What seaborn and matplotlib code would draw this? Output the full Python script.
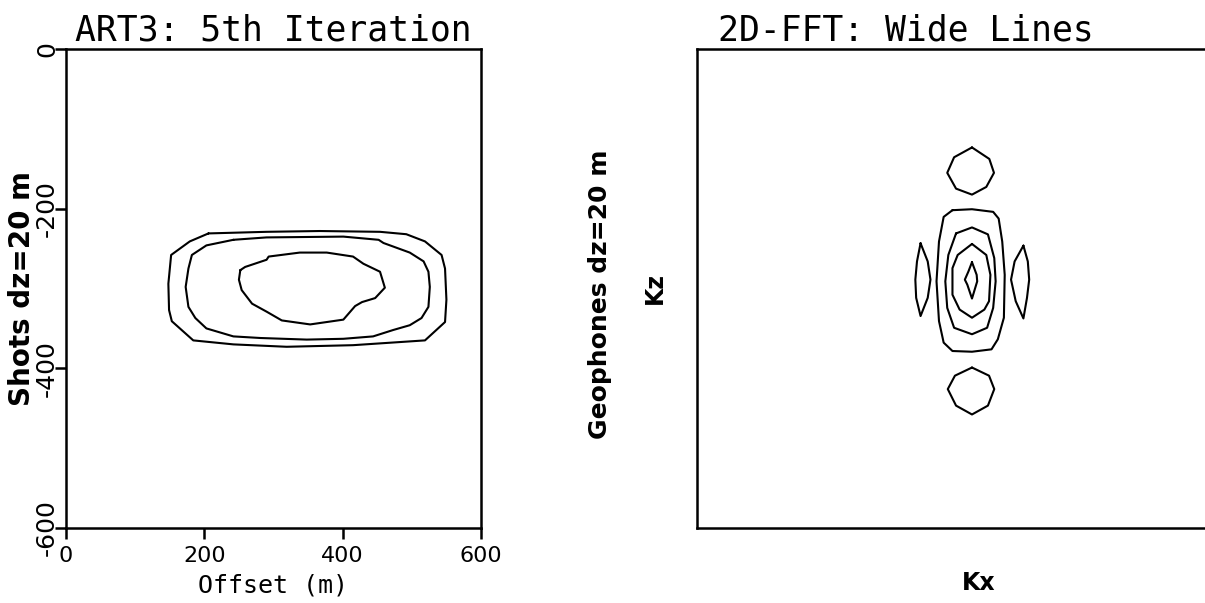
import matplotlib
matplotlib.use("Agg")
import matplotlib.pyplot as plt
import seaborn as sns
import pandas as pd

# ---- left panel: ART3 reconstruction contours (offset in m, depth in m) ----
art3_outer_x = [206, 290, 367, 454, 492, 519, 543, 548, 550, 548, 519, 415, 319, 242, 184, 153, 149, 148, 152, 179]
art3_outer_z = [-231, -229, -228, -229, -232, -241, -258, -275, -314, -342, -365, -371, -373, -370, -365, -341, -327, -294, -258, -241]

art3_mid_x = [242, 290, 401, 452, 459, 497, 517, 524, 526, 524, 514, 497, 473, 444, 401, 348, 281, 242, 203, 187, 177, 173, 177, 182, 203]
art3_mid_z = [-239, -236, -235, -239, -243, -255, -266, -279, -298, -323, -337, -346, -352, -360, -363, -364, -362, -360, -350, -337, -323, -298, -275, -258, -246]

art3_inner_x = [252, 259, 290, 293, 338, 377, 415, 430, 454, 461, 447, 428, 418, 401, 353, 312, 290, 269, 254, 250]
art3_inner_z = [-277, -273, -264, -260, -255, -255, -260, -269, -279, -299, -312, -317, -322, -339, -345, -340, -329, -319, -302, -289]

offset_ticks = [0, 200, 400, 600]
depth_ticks = [0, -200, -400, -600]

# ---- right panel: 2D-FFT amplitude contours (normalised wavenumbers) ----
fft_top_kx = [0.000, 0.063, 0.080, 0.052, 0.000, -0.058, -0.090, -0.065]
fft_top_kz = [0.589, 0.541, 0.483, 0.424, 0.392, 0.417, 0.483, 0.548]

fft_bot_kx = [0.000, 0.062, 0.081, 0.058, 0.000, -0.058, -0.088, -0.062]
fft_bot_kz = [-0.330, -0.364, -0.420, -0.489, -0.526, -0.489, -0.420, -0.364]

fft_c1_kx = [-0.071, 0.000, 0.077, 0.097, 0.110, 0.119, 0.116, 0.094, 0.071, 0.000, -0.071, -0.103, -0.120, -0.129, -0.120, -0.103]
fft_c1_kz = [0.327, 0.331, 0.320, 0.292, 0.196, 0.057, -0.122, -0.212, -0.254, -0.264, -0.261, -0.226, -0.136, 0.030, 0.196, 0.299]

fft_c2_kx = [-0.058, 0.000, 0.058, 0.081, 0.086, 0.077, 0.055, 0.000, -0.065, -0.090, -0.097, -0.086]
fft_c2_kz = [0.230, 0.255, 0.226, 0.127, 0.030, -0.081, -0.164, -0.191, -0.164, -0.081, 0.030, 0.140]

fft_c3_kx = [0.000, 0.052, 0.067, 0.062, 0.045, 0.000, -0.045, -0.071, -0.071, -0.052]
fft_c3_kz = [0.186, 0.140, 0.057, -0.053, -0.088, -0.122, -0.088, -0.026, 0.085, 0.140]

fft_c4_kx = [0.000, 0.017, 0.019, 0.000, -0.017, -0.026, -0.013]
fft_c4_kz = [0.110, 0.057, 0.030, -0.042, 0.016, 0.037, 0.071]

fft_left_kx = [-0.187, -0.161, -0.151, -0.161, -0.187, -0.203, -0.206, -0.200]
fft_left_kz = [0.189, 0.113, 0.037, -0.039, -0.115, -0.039, 0.037, 0.113]

fft_right_kx = [0.187, 0.203, 0.208, 0.200, 0.187, 0.159, 0.142, 0.155]
fft_right_kz = [0.179, 0.113, 0.037, -0.039, -0.125, -0.053, 0.037, 0.113]

sns.set_theme(style="white")
plt.rcParams["font.family"] = ["DejaVu Sans"]
plt.rcParams["axes.unicode_minus"] = False
plt.rcParams["text.color"] = "black"
plt.rcParams["axes.labelcolor"] = "black"
plt.rcParams["xtick.color"] = "black"
plt.rcParams["ytick.color"] = "black"

W, H = 1205, 603
fig = plt.figure(figsize=(W / 100, H / 100), dpi=100)
fig.patch.set_facecolor("white")

ax1 = fig.add_axes([66 / W, 75 / H, 415 / W, 479 / H])
ax2 = fig.add_axes([697 / W, 75 / H, 553 / W, 479 / H])

LW = 1.5


def draw_closed(ax, xs, ys):
    df = pd.DataFrame({"x": list(xs) + [xs[0]], "y": list(ys) + [ys[0]]})
    sns.lineplot(data=df, x="x", y="y", sort=False, estimator=None,
                 color="black", linewidth=LW, ax=ax)


# left panel
for xs, zs in [(art3_outer_x, art3_outer_z), (art3_mid_x, art3_mid_z),
               (art3_inner_x, art3_inner_z)]:
    draw_closed(ax1, xs, zs)

ax1.set_xlim(0, 600)
ax1.set_ylim(-600, 0)
ax1.set_xticks(offset_ticks)
ax1.set_xticklabels([str(v) for v in offset_ticks], fontsize=16)
ax1.set_yticks(depth_ticks)
ax1.set_yticklabels([str(v) for v in depth_ticks], fontsize=18,
                    rotation=90, va="center")
ax1.tick_params(axis="both", direction="out", length=8, width=1.8,
                color="black", bottom=True, left=True)
ax1.tick_params(axis="y", pad=-3)
ax1.tick_params(axis="x", pad=5)
ax1.set_xlabel("Offset (m)", family="DejaVu Sans Mono", fontsize=18, labelpad=5)
ax1.set_ylabel("Shots dz=20 m", fontsize=20, fontweight="bold")
ax1.yaxis.set_label_coords(-0.072, 0.5)
ax1.set_title("ART3: 5th Iteration", family="DejaVu Sans Mono", fontsize=25, pad=6)

# right panel
for xs, zs in [(fft_top_kx, fft_top_kz), (fft_bot_kx, fft_bot_kz),
               (fft_c1_kx, fft_c1_kz), (fft_c2_kx, fft_c2_kz),
               (fft_c3_kx, fft_c3_kz), (fft_c4_kx, fft_c4_kz),
               (fft_left_kx, fft_left_kz), (fft_right_kx, fft_right_kz)]:
    draw_closed(ax2, xs, zs)

ax2.set_xlim(-1, 1.011)
ax2.set_ylim(-1, 1)
ax2.set_xticks([])
ax2.set_yticks([])
ax2.set_xlabel("Kx", fontsize=17, fontweight="bold")
ax2.xaxis.set_label_coords(0.51, -0.09)
ax2.set_ylabel("Kz", fontsize=17, fontweight="bold", labelpad=22)
ax2.set_title("2D-FFT: Wide Lines", family="DejaVu Sans Mono", fontsize=25,
              pad=6, x=0.378)

fig.text(600 / W, 0.512, "Geophones dz=20 m", rotation=90, ha="center",
         va="center", fontsize=18, fontweight="bold")

for ax in (ax1, ax2):
    for s in ax.spines.values():
        s.set_color("black")
        s.set_linewidth(1.8)

fig.savefig("out.png", dpi=100, facecolor="white")
